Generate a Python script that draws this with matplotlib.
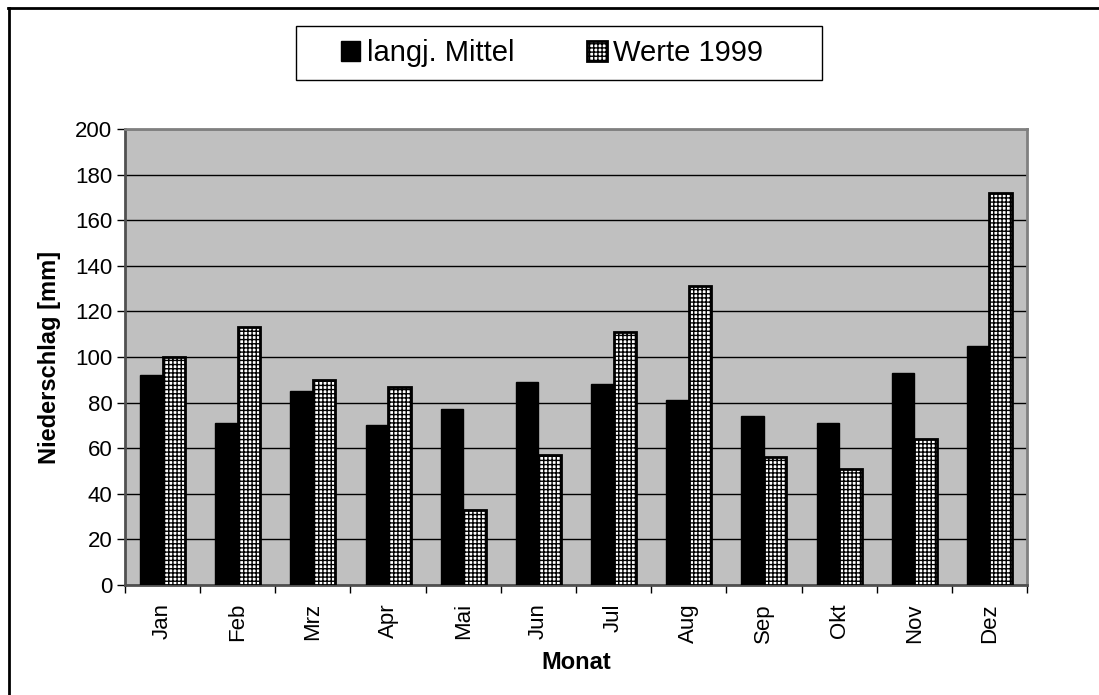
import numpy as np
import matplotlib
matplotlib.use("Agg")
import matplotlib.pyplot as plt
from matplotlib.lines import Line2D
from matplotlib.patches import Rectangle

plt.rcParams['font.family'] = ['Liberation Sans', 'DejaVu Sans']
plt.rcParams['hatch.linewidth'] = 1.0
plt.rcParams['hatch.color'] = 'black'

# Monatliche Niederschlagswerte
months = ["Jan", "Feb", "Mrz", "Apr", "Mai", "Jun", "Jul", "Aug", "Sep", "Okt", "Nov", "Dez"]
mittel = [92, 71, 85, 70, 77, 89, 88, 81, 74, 71, 93, 105]
werte_1999 = [100, 113, 90, 87, 33, 57, 111, 131, 56, 51, 64, 172]
yticks = list(range(0, 201, 20))

W, H = 1099, 695
fig = plt.figure(figsize=(W / 100, H / 100), dpi=100)
ax = fig.add_axes([125 / W, 1 - 585 / H, 902 / W, 456 / H])

x = np.arange(len(months))
w = 0.3
ax.bar(x - w / 2, mittel, w, color='black', edgecolor='black', linewidth=1,
       label='langj. Mittel', zorder=3)
ax.bar(x + w / 2, werte_1999, w, color='white', edgecolor='black', linewidth=2,
       hatch='++++', label='Werte 1999', zorder=3)

ax.set_facecolor('#c0c0c0')
ax.set_xlim(-0.5, len(months) - 0.5)
ax.set_ylim(0, 200)
ax.set_yticks(yticks)
ax.tick_params(axis='y', labelsize=16, length=6, width=1, direction='out', pad=3)
ax.yaxis.grid(True, color='black', linewidth=1, zorder=1)
ax.set_axisbelow(True)

# Kategorie-Beschriftungen in der Mitte, Striche an den Grenzen
ax.set_xticks(x)
ax.set_xticklabels(months, rotation=90, fontsize=16)
ax.tick_params(axis='x', which='major', length=0, pad=13)
ax.set_xticks(np.arange(-0.5, len(months)), minor=True)
ax.tick_params(axis='x', which='minor', length=6, width=1, direction='out')

for side in ['top', 'right']:
    ax.spines[side].set_color('#808080')
    ax.spines[side].set_linewidth(2)
for side in ['left', 'bottom']:
    ax.spines[side].set_color('#505050')
    ax.spines[side].set_linewidth(2)

ax.set_ylabel('Niederschlag [mm]', fontsize=17, fontweight='bold', labelpad=10)
ax.set_xlabel('Monat', fontsize=17, fontweight='bold', labelpad=6)

leg = fig.legend(loc='center', bbox_to_anchor=(552 / W, 1 - 53 / H), ncol=2,
                 fontsize=21, frameon=False, handlelength=0.68,
                 handleheight=0.68, handletextpad=0.22, columnspacing=2.5)

# Legendenrahmen
fig.add_artist(Rectangle((296 / W, 1 - 80 / H), 526 / W, 54 / H,
                         transform=fig.transFigure, facecolor='none',
                         edgecolor='black', linewidth=1))

# Rahmen um das Diagramm (oben und links sichtbar)
fig.add_artist(Line2D([8 / W, 1], [1 - 7.5 / H, 1 - 7.5 / H],
                      transform=fig.transFigure, color='black', linewidth=2))
fig.add_artist(Line2D([8.5 / W, 8.5 / W], [0, 1 - 7.5 / H],
                      transform=fig.transFigure, color='black', linewidth=2))

fig.savefig('out.png', dpi=100)
